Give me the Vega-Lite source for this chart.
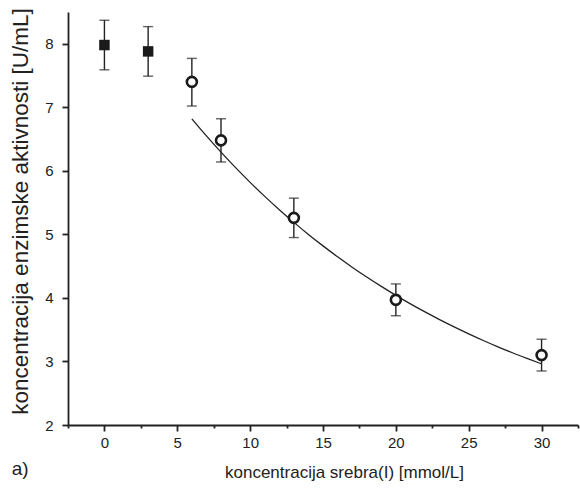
{
  "$schema": "https://vega.github.io/schema/vega-lite/v6.json",
  "width": 510,
  "height": 413,
  "autosize": {"type": "none"},
  "padding": {"left": 68, "top": 12, "right": 2, "bottom": 66},
  "background": "white",
  "title": {
    "text": "a)",
    "orient": "bottom",
    "anchor": "start",
    "frame": "bounds",
    "offset": -20,
    "dx": 2,
    "fontSize": 19,
    "fontWeight": "normal",
    "font": "Liberation Sans",
    "color": "#222"
  },
  "config": {
    "view": {"stroke": null},
    "font": "Liberation Sans",
    "axis": {
      "domainColor": "#222",
      "domainWidth": 1.8,
      "tickColor": "#222",
      "tickWidth": 1.8,
      "labelColor": "#222",
      "titleColor": "#222",
      "labelFont": "Liberation Sans",
      "titleFont": "Liberation Sans",
      "labelFontSize": 15,
      "titleFontWeight": "normal",
      "grid": false
    }
  },
  "datasets": {
    "points": [
      {"c": 0, "a": 7.98, "lo": 7.59, "hi": 8.37, "grupa": "kontrola"},
      {"c": 3, "a": 7.88, "lo": 7.49, "hi": 8.27, "grupa": "kontrola"},
      {"c": 6, "a": 7.40, "lo": 7.02, "hi": 7.77, "grupa": "inhibicija"},
      {"c": 8, "a": 6.48, "lo": 6.14, "hi": 6.82, "grupa": "inhibicija"},
      {"c": 13, "a": 5.26, "lo": 4.95, "hi": 5.57, "grupa": "inhibicija"},
      {"c": 20, "a": 3.97, "lo": 3.72, "hi": 4.22, "grupa": "inhibicija"},
      {"c": 30, "a": 3.10, "lo": 2.85, "hi": 3.35, "grupa": "inhibicija"}
    ],
    "fit": [
      {"c": 6, "a": 6.819}, {"c": 7, "a": 6.550}, {"c": 8, "a": 6.294},
      {"c": 9, "a": 6.050}, {"c": 10, "a": 5.819}, {"c": 11, "a": 5.598},
      {"c": 12, "a": 5.389}, {"c": 13, "a": 5.189}, {"c": 14, "a": 4.999},
      {"c": 15, "a": 4.819}, {"c": 16, "a": 4.647}, {"c": 17, "a": 4.484},
      {"c": 18, "a": 4.329}, {"c": 19, "a": 4.181}, {"c": 20, "a": 4.041},
      {"c": 21, "a": 3.907}, {"c": 22, "a": 3.780}, {"c": 23, "a": 3.659},
      {"c": 24, "a": 3.544}, {"c": 25, "a": 3.434}, {"c": 26, "a": 3.330},
      {"c": 27, "a": 3.231}, {"c": 28, "a": 3.137}, {"c": 29, "a": 3.048},
      {"c": 30, "a": 2.962}
    ]
  },
  "encoding": {
    "x": {
      "field": "c", "type": "quantitative",
      "scale": {"domain": [-2.5, 32.5], "nice": false, "zero": false},
      "axis": {
        "title": "koncentracija srebra(I) [mmol/L]",
        "titleFontSize": 17,
        "titleX": 276,
        "values": [-2.5, 0, 2.5, 5, 7.5, 10, 12.5, 15, 17.5, 20, 22.5, 25, 27.5, 30, 32.5],
        "labelExpr": "datum.value % 5 == 0 ? format(datum.value, 'd') : ''",
        "tickSize": {"condition": {"test": "datum.value % 5 != 0", "value": 3}, "value": 6},
        "labelPadding": 4,
        "titlePadding": 14,
        "labelFlush": false,
        "labelOverlap": false
      }
    }
  },
  "layer": [
    {
      "data": {"name": "fit"},
      "mark": {"type": "line", "color": "#222", "strokeWidth": 1.3, "interpolate": "monotone"},
      "encoding": {
        "y": {
          "field": "a", "type": "quantitative",
          "scale": {"domain": [2, 8.5], "nice": false, "zero": false},
          "axis": {
            "title": "koncentracija enzimske aktivnosti [U/mL]",
            "titleFontSize": 22.5,
            "titleY": 199,
            "values": [2, 2.5, 3, 3.5, 4, 4.5, 5, 5.5, 6, 6.5, 7, 7.5, 8, 8.5],
            "labelExpr": "datum.value % 1 == 0 ? format(datum.value, 'd') : ''",
            "tickSize": {"condition": {"test": "datum.value % 1 != 0", "value": 3}, "value": 6},
            "labelPadding": 9,
            "titlePadding": 12,
            "labelFlush": false,
            "labelOverlap": false
          }
        }
      }
    },
    {
      "data": {"name": "points"},
      "mark": {"type": "rule", "color": "#222", "strokeWidth": 1.4},
      "encoding": {
        "y": {"field": "lo", "type": "quantitative"},
        "y2": {"field": "hi"}
      }
    },
    {
      "data": {"name": "points"},
      "mark": {"type": "tick", "orient": "horizontal", "color": "#222", "size": 10, "thickness": 1.4},
      "encoding": {
        "y": {"field": "lo", "type": "quantitative"}
      }
    },
    {
      "data": {"name": "points"},
      "mark": {"type": "tick", "orient": "horizontal", "color": "#222", "size": 10, "thickness": 1.4},
      "encoding": {
        "y": {"field": "hi", "type": "quantitative"}
      }
    },
    {
      "data": {"name": "points"},
      "transform": [{"filter": "datum.grupa === 'kontrola'"}],
      "mark": {"type": "square", "color": "#1a1a1a", "size": 110, "filled": true, "opacity": 1},
      "encoding": {
        "y": {"field": "a", "type": "quantitative"}
      }
    },
    {
      "data": {"name": "points"},
      "transform": [{"filter": "datum.grupa === 'inhibicija'"}],
      "mark": {"type": "point", "shape": "circle", "filled": true, "fill": "white", "stroke": "#1a1a1a", "strokeWidth": 2.6, "size": 100, "opacity": 1},
      "encoding": {
        "y": {"field": "a", "type": "quantitative"}
      }
    }
  ]
}
